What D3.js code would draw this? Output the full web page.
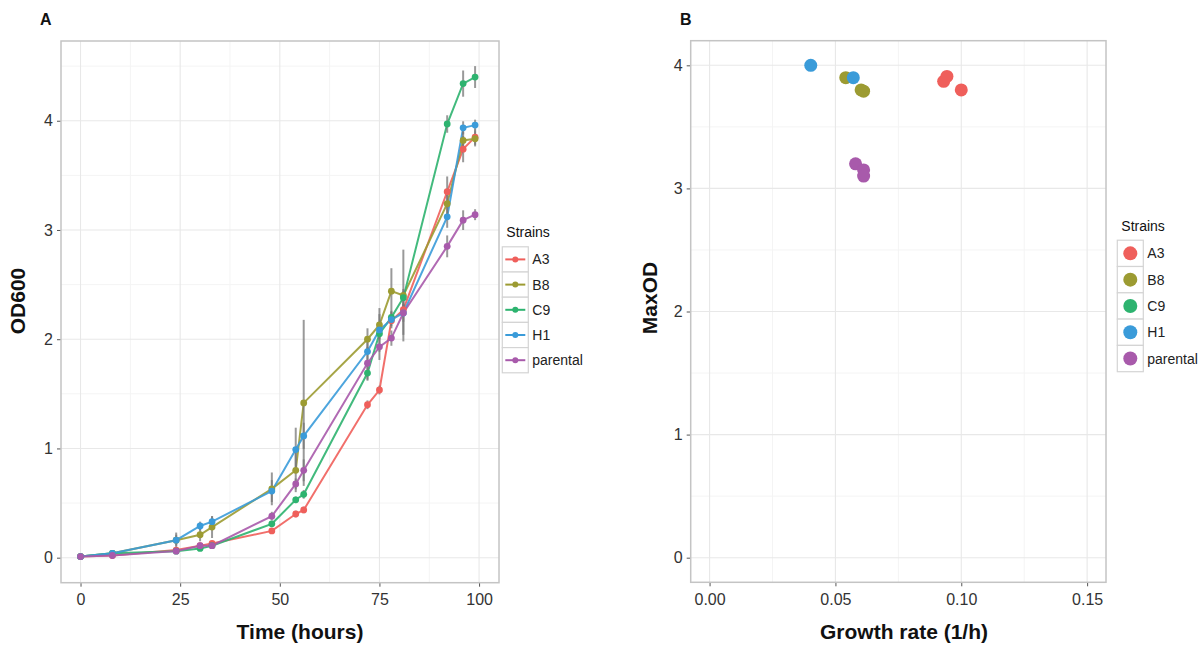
<!DOCTYPE html>
<html>
<head>
<meta charset="utf-8">
<script src="https://cdn.jsdelivr.net/npm/d3@7"></script>
<style>
  body { margin: 0; background: #fff; }
  svg { font-family: "Liberation Sans", Arial, Helvetica, sans-serif; }
</style>
</head>
<body>
<div id="chart"></div>
<script>
// sampling times (hours)
const times = [0, 8, 24, 30, 33, 48, 54, 56, 72, 75, 78, 81, 92, 96, 99];
const strains = ["A3", "B8", "C9", "H1", "parental"];
const colors = ["#ef5f5b", "#9c9b32", "#2db36f", "#3a9bd9", "#a85aab"];

// OD600 means per strain
const odA3  = [0.01, 0.02, 0.07, 0.11, 0.13, 0.245, 0.40, 0.437, 1.40, 1.535, 2.17, 2.27, 3.35, 3.74, 3.85];
const odB8  = [0.01, 0.04, 0.16, 0.21, 0.28, 0.63, 0.80, 1.417, 2.00, 2.13, 2.44, 2.40, 3.24, 3.82, 3.835];
const odC9  = [0.01, 0.04, 0.06, 0.085, 0.11, 0.31, 0.53, 0.58, 1.69, 2.05, 2.20, 2.38, 3.97, 4.34, 4.40];
const odH1  = [0.01, 0.04, 0.16, 0.29, 0.33, 0.61, 0.99, 1.115, 1.887, 2.085, 2.18, 2.24, 3.12, 3.935, 3.96];
const odPar = [0.01, 0.02, 0.06, 0.11, 0.11, 0.38, 0.675, 0.80, 1.78, 1.93, 2.01, 2.24, 2.85, 3.09, 3.14];

// error bar half-widths
const errA3  = [0, 0, 0.01, 0.02, 0.02, 0.02, 0.03, 0.03, 0.04, 0.04, 0.05, 0.05, 0.14, 0.12, 0.07];
const errB8  = [0, 0.01, 0.07, 0.06, 0.10, 0.15, 0.20, 0.76, 0.10, 0.10, 0.21, 0.42, 0.10, 0.08, 0.07];
const errC9  = [0, 0, 0.01, 0.02, 0.02, 0.02, 0.03, 0.04, 0.07, 0.05, 0.05, 0.08, 0.08, 0.12, 0.10];
const errH1  = [0, 0.01, 0.05, 0.04, 0.05, 0.10, 0.20, 0.12, 0.10, 0.20, 0.08, 0.08, 0.10, 0.06, 0.05];
const errPar = [0, 0, 0.01, 0.02, 0.02, 0.04, 0.05, 0.10, 0.15, 0.12, 0.07, 0.20, 0.10, 0.09, 0.05];

// panel B: growth rate vs max OD
const rateA3 = [0.093, 0.0943, 0.100],  maxA3 = [3.87, 3.91, 3.80];
const rateB8 = [0.0541, 0.0602, 0.0612], maxB8 = [3.90, 3.80, 3.79];
const rateC9 = [], maxC9 = [];
const rateH1 = [0.0402, 0.0571], maxH1 = [4.00, 3.90];
const ratePar = [0.058, 0.0612, 0.0612], maxPar = [3.20, 3.15, 3.10];

const xTicksA = [0, 25, 50, 75, 100];
const yTicks = [0, 1, 2, 3, 4];
const xTicksB = [0, 0.05, 0.10, 0.15];

const odAll = [odA3, odB8, odC9, odH1, odPar];
const errAll = [errA3, errB8, errC9, errH1, errPar];
const rateAll = [rateA3, rateB8, rateC9, rateH1, ratePar];
const maxAll = [maxA3, maxB8, maxC9, maxH1, maxPar];

const series = strains.map((s, i) => ({
  name: s, color: colors[i],
  values: times.map((t, j) => ({ t: t, v: odAll[i][j], e: errAll[i][j] }))
}));

const svg = d3.select("#chart").append("svg")
  .attr("width", 1204).attr("height", 645);

function panel(x, y, xMinor, yMinor, xTicks, xFmt) {
  const g = svg.append("g");
  const [x0, x1] = x.range(), [y0, y1] = y.range();
  g.selectAll(".minx").data(xMinor).enter().append("line")
    .attr("x1", d => x(d)).attr("x2", d => x(d)).attr("y1", y0).attr("y2", y1)
    .attr("stroke", "#f4f4f4").attr("stroke-width", 1);
  g.selectAll(".miny").data(yMinor).enter().append("line")
    .attr("y1", d => y(d)).attr("y2", d => y(d)).attr("x1", x0).attr("x2", x1)
    .attr("stroke", "#f4f4f4").attr("stroke-width", 1);
  g.selectAll(".majx").data(xTicks).enter().append("line")
    .attr("x1", d => x(d)).attr("x2", d => x(d)).attr("y1", y0).attr("y2", y1)
    .attr("stroke", "#e8e8e8").attr("stroke-width", 1.1);
  g.selectAll(".majy").data(yTicks).enter().append("line")
    .attr("y1", d => y(d)).attr("y2", d => y(d)).attr("x1", x0).attr("x2", x1)
    .attr("stroke", "#e8e8e8").attr("stroke-width", 1.1);

  const ax = svg.append("g").attr("transform", `translate(0,${y0})`)
    .call(d3.axisBottom(x).tickValues(xTicks).tickFormat(xFmt).tickSize(4).tickPadding(7));
  const ay = svg.append("g").attr("transform", `translate(${x0},0)`)
    .call(d3.axisLeft(y).tickValues(yTicks).tickFormat(d3.format("d")).tickSize(4).tickPadding(4));
  [ax, ay].forEach(a => {
    a.select(".domain").remove();
    a.selectAll("line").attr("stroke", "#555");
    a.selectAll("text").attr("fill", "#333").style("font-size", "16px");
  });
  return g;
}

function border(x, y) {
  const [x0, x1] = x.range(), [y0, y1] = y.range();
  svg.append("rect").attr("x", x0).attr("y", y1)
    .attr("width", x1 - x0).attr("height", y0 - y1)
    .attr("fill", "none").attr("stroke", "#c4c4c4").attr("stroke-width", 1.5);
}

// ---- panel A ----
const xA = d3.scaleLinear().domain([-4.9, 105]).range([61, 499]);
const yA = d3.scaleLinear().domain([-0.229, 4.73]).range([582.7, 41]);
const gA = panel(xA, yA, [12.5, 37.5, 62.5, 87.5], [0.5, 1.5, 2.5, 3.5, 4.5], xTicksA, d3.format("d"));

const line = d3.line().x(d => xA(d.t)).y(d => yA(d.v));
series.forEach(s => {
  gA.append("path").datum(s.values)
    .attr("fill", "none").attr("stroke", s.color).attr("stroke-width", 2)
    .attr("stroke-opacity", 0.9).attr("d", line);
});
series.forEach(s => {
  gA.selectAll(null).data(s.values.filter(d => d.e > 0)).enter().append("line")
    .attr("x1", d => xA(d.t)).attr("x2", d => xA(d.t))
    .attr("y1", d => yA(d.v - d.e)).attr("y2", d => yA(d.v + d.e))
    .attr("stroke", "#777").attr("stroke-opacity", 0.75).attr("stroke-width", 2);
});
series.forEach(s => {
  gA.selectAll(null).data(s.values).enter().append("circle")
    .attr("cx", d => xA(d.t)).attr("cy", d => yA(d.v)).attr("r", 3.4)
    .attr("fill", s.color);
});
border(xA, yA);

// ---- panel B ----
const xB = d3.scaleLinear().domain([-0.0075, 0.1575]).range([690.7, 1106]);
const yB = d3.scaleLinear().domain([-0.2, 4.2]).range([582.3, 40.7]);
const gB = panel(xB, yB, [0.025, 0.075, 0.125], [0.5, 1.5, 2.5, 3.5], xTicksB, d3.format(".2f"));
strains.forEach((s, i) => {
  gB.selectAll(null).data(rateAll[i].map((r, j) => ({ r: r, m: maxAll[i][j] })))
    .enter().append("circle")
    .attr("cx", d => xB(d.r)).attr("cy", d => yB(d.m)).attr("r", 6.5)
    .attr("fill", colors[i]);
});
border(xB, yB);

// ---- titles ----
function txt(x, y, s, size, weight, rot) {
  const t = svg.append("text").attr("x", x).attr("y", y).text(s)
    .style("font-size", size + "px").style("font-weight", weight).attr("fill", "#111");
  if (rot) t.attr("transform", `rotate(-90,${x},${y})`).attr("text-anchor", "middle");
  return t;
}
txt(40, 25, "A", 16, "bold");
txt(680, 25, "B", 16, "bold");
txt(300, 639, "Time (hours)", 21, "bold").attr("text-anchor", "middle");
txt(904, 639, "Growth rate (1/h)", 21, "bold").attr("text-anchor", "middle");
txt(25, 301, "OD600", 21, "bold", true);
txt(657, 298, "MaxOD", 21, "bold", true);

// ---- legends ----
function legend(x0, yTitle, rowH, kind) {
  const g = svg.append("g");
  g.append("text").attr("x", x0 + 4).attr("y", yTitle).text("Strains")
    .style("font-size", "14px").attr("fill", "#111");
  const rows = g.selectAll(".row").data(strains).enter().append("g")
    .attr("transform", (d, i) => `translate(${x0},${yTitle + 9.5 + i * rowH})`);
  rows.append("rect").attr("width", 26).attr("height", rowH)
    .attr("fill", "#fff").attr("stroke", "#d4d4d4").attr("stroke-width", 1.2);
  if (kind === "line") {
    rows.append("line").attr("x1", 3).attr("x2", 23).attr("y1", rowH / 2).attr("y2", rowH / 2)
      .attr("stroke", (d, i) => colors[i]).attr("stroke-width", 2);
    rows.append("circle").attr("cx", 13).attr("cy", rowH / 2).attr("r", 3)
      .attr("fill", (d, i) => colors[i]);
  } else {
    rows.append("circle").attr("cx", 13).attr("cy", rowH / 2).attr("r", 7)
      .attr("fill", (d, i) => colors[i]);
  }
  rows.append("text").attr("x", 30).attr("y", rowH / 2).attr("dy", "0.36em").text(d => d)
    .style("font-size", "14px").attr("fill", "#222");
}
legend(502.3, 237.3, 25.2, "line");
legend(1117.3, 230.7, 26.3, "point");
</script>
</body>
</html>
